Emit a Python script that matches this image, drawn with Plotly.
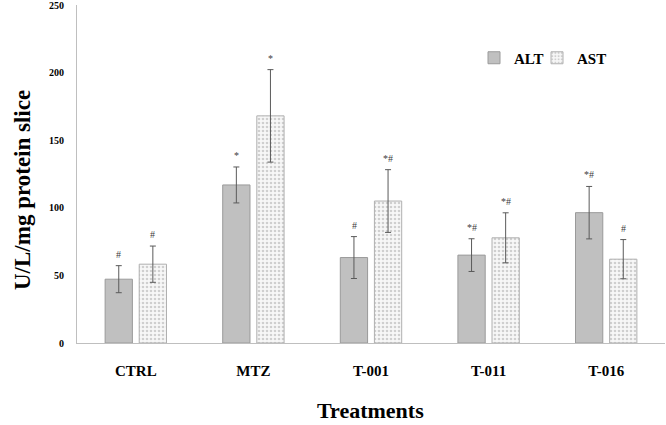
import plotly.graph_objects as go

categories = ["CTRL", "MTZ", "T-001", "T-011", "T-016"]
alt_values = [47.2, 116.9, 63.2, 65.0, 96.4]
alt_errors = [10.0, 13.3, 15.5, 12.1, 19.4]
ast_values = [58.3, 168.0, 105.0, 77.8, 62.0]
ast_errors = [13.4, 34.2, 23.2, 18.5, 14.5]
alt_marks = ["#", "*", "#", "*#", "*#"]
ast_marks = ["#", "*", "*#", "*#", "#"]

FONT = "Liberation Serif"

fig = go.Figure()
fig.add_trace(go.Bar(
    name="ALT", x=categories, y=alt_values, legend="legend",
    marker=dict(color="#c0c0c0", line=dict(color="#9a9a9a", width=1)),
    error_y=dict(type="data", array=alt_errors, color="#5a5a5a", thickness=1, width=3),
))
fig.add_trace(go.Bar(
    name="AST", x=categories, y=ast_values, legend="legend2",
    marker=dict(color="#f4f4f4", line=dict(color="#b0b0b0", width=1),
                pattern=dict(shape=".", fgcolor="#a8a8a8", bgcolor="#f7f7f7", size=4, solidity=0.35)),
    error_y=dict(type="data", array=ast_errors, color="#5a5a5a", thickness=1, width=3),
))

for i, c in enumerate(categories):
    for vals, errs, marks, off in ((alt_values, alt_errors, alt_marks, -17),
                                   (ast_values, ast_errors, ast_marks, 17)):
        fig.add_annotation(x=c, y=vals[i] + errs[i], text=marks[i], showarrow=False,
                           xshift=off, yshift=4, yanchor="bottom",
                           font=dict(family=FONT, size=10, color="#404040"))

# axis titles
fig.add_annotation(text="<b>U/L/mg protein slice</b>", xref="paper", yref="paper",
                   x=(22 - 77) / 588, y=(343 - 190) / 338, xanchor="center", yanchor="middle", textangle=-90,
                   showarrow=False, font=dict(family=FONT, size=23, color="#000000"))
fig.add_annotation(text="<b>Treatments</b>", xref="paper", yref="paper",
                   x=(370 - 77) / 588, y=-(410 - 343) / 338, xanchor="center", yanchor="middle",
                   showarrow=False, font=dict(family=FONT, size=22, color="#000000"))

legend_common = dict(orientation="h", y=(343 - 58) / 338, xanchor="left", yanchor="middle",
                     font=dict(family=FONT, size=15, color="#000000", weight="bold"),
                     itemwidth=30, bgcolor="rgba(0,0,0,0)")

fig.update_layout(
    width=666, height=425,
    margin=dict(l=77, r=1, t=5, b=82),
    paper_bgcolor="white", plot_bgcolor="white",
    barmode="group", bargap=0.42, bargroupgap=0.2,
    font=dict(family=FONT, color="#000000"),
    showlegend=True,
    legend=dict(x=(474 - 77) / 588, **legend_common),
    legend2=dict(x=(537 - 77) / 588, **legend_common),
    xaxis=dict(showline=True, linecolor="#bfbfbf", linewidth=1, ticks="", automargin=False,
               tickfont=dict(family=FONT, size=15, color="#000000", weight="bold"),
               ticklabelstandoff=14),
    yaxis=dict(range=[0, 250], tickvals=[0, 50, 100, 150, 200, 250], automargin=False,
               showline=True, linecolor="#bfbfbf", linewidth=1, ticks="", showgrid=False, zeroline=False,
               tickfont=dict(family=FONT, size=10, color="#000000", weight="bold"),
               ticklabelstandoff=10, ticklabeloverflow="allow"),
)

fig.write_html("out.html", config={"displayModeBar": False},
               post_script="document.body.style.margin='0';document.body.style.padding='0';")
